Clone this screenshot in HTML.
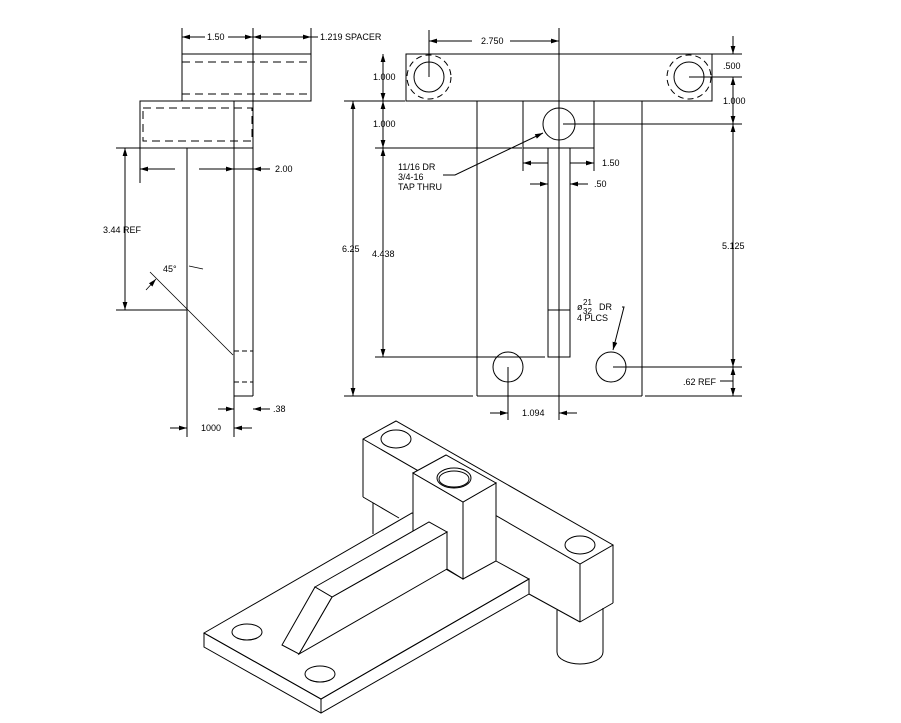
<!DOCTYPE html>
<html><head><meta charset="utf-8"><style>
html,body{margin:0;padding:0;background:#fff;}
svg{display:block;}
text{font-family:"Liberation Sans",sans-serif;font-size:9px;fill:#000;}
</style></head><body>
<svg width="901" height="723" viewBox="0 0 901 723" xmlns="http://www.w3.org/2000/svg">
<defs>
<marker id="a" viewBox="0 0 10 6" refX="10" refY="3" markerWidth="8" markerHeight="5" orient="auto-start-reverse" markerUnits="userSpaceOnUse"><path d="M0,0 L10,3 L0,6 z" fill="#000"/></marker>
</defs>
<rect width="901" height="723" fill="#fff"/>
<g stroke="#000" stroke-width="1" fill="none">
<!-- LEFT VIEW -->
<rect x="182" y="54" width="129" height="47"/>
<line x1="182" y1="62" x2="311" y2="62" stroke-dasharray="8,5"/>
<line x1="182" y1="94" x2="311" y2="94" stroke-dasharray="8,5"/>
<line x1="253" y1="28" x2="253" y2="396"/>
<line x1="182" y1="28" x2="182" y2="54"/>
<line x1="311" y1="28" x2="311" y2="54"/>
<line x1="182" y1="37" x2="205" y2="37" marker-start="url(#a)"/>
<line x1="228" y1="37" x2="253" y2="37" marker-end="url(#a)"/>
<line x1="253" y1="37" x2="311" y2="37" marker-start="url(#a)" marker-end="url(#a)"/>
<line x1="311" y1="37" x2="318" y2="37"/>
<rect x="140" y="101" width="113" height="47"/>
<rect x="143" y="108" width="109" height="33" stroke-dasharray="8,5"/>
<line x1="234" y1="101" x2="234" y2="396"/>
<line x1="234" y1="396" x2="253" y2="396"/>
<line x1="234" y1="396" x2="234" y2="437"/>
<line x1="187" y1="148" x2="187" y2="437"/>
<line x1="234" y1="351" x2="253" y2="351" stroke-dasharray="5,3"/>
<line x1="234" y1="382" x2="253" y2="382" stroke-dasharray="5,3"/>
<line x1="140" y1="148" x2="140" y2="183"/>
<line x1="140" y1="169" x2="175" y2="169" marker-start="url(#a)"/>
<line x1="199" y1="169" x2="234" y2="169" marker-end="url(#a)"/>
<line x1="253" y1="169" x2="270" y2="169" marker-start="url(#a)"/>
<line x1="234" y1="169" x2="253" y2="169"/>
<line x1="116" y1="148" x2="140" y2="148"/>
<line x1="116" y1="310" x2="187" y2="310"/>
<line x1="125" y1="148" x2="125" y2="310" marker-start="url(#a)" marker-end="url(#a)"/>
<line x1="150" y1="272" x2="233" y2="355" stroke-width="0.8"/>
<path d="M146,290 L156,279" marker-end="url(#a)" stroke-width="0.8"/>
<path d="M189,266 L203,269" stroke-width="0.8"/>
<line x1="218" y1="409" x2="234" y2="409" marker-end="url(#a)"/>
<line x1="270" y1="409" x2="253" y2="409" marker-end="url(#a)"/>
<line x1="170" y1="428" x2="187" y2="428" marker-end="url(#a)"/>
<line x1="252" y1="428" x2="234" y2="428" marker-end="url(#a)"/>
<!-- RIGHT VIEW -->
<rect x="406" y="54" width="306" height="47"/>
<circle cx="429" cy="77" r="15"/>
<circle cx="429" cy="77" r="22" stroke-dasharray="6,4"/>
<circle cx="689" cy="77" r="15"/>
<circle cx="689" cy="77" r="22" stroke-dasharray="6,4"/>
<line x1="477" y1="101" x2="477" y2="396"/>
<line x1="642" y1="101" x2="642" y2="396"/>
<line x1="477" y1="396" x2="642" y2="396"/>
<rect x="523" y="101" width="71" height="47"/>
<circle cx="559" cy="124" r="16"/>
<rect x="548" y="148" width="22" height="209"/>
<line x1="548" y1="310" x2="570" y2="310"/>
<line x1="559" y1="28" x2="559" y2="420"/>
<circle cx="508" cy="367" r="15"/>
<circle cx="611" cy="367" r="15"/>
<line x1="429" y1="30" x2="429" y2="77"/>
<line x1="429" y1="41" x2="472" y2="41" marker-start="url(#a)"/>
<line x1="510" y1="41" x2="559" y2="41" marker-end="url(#a)"/>
<line x1="344" y1="101" x2="405" y2="101"/>
<line x1="375" y1="148" x2="522" y2="148"/>
<line x1="375" y1="357" x2="545" y2="357"/>
<line x1="344" y1="396" x2="473" y2="396"/>
<line x1="383" y1="54" x2="383" y2="101" marker-start="url(#a)" marker-end="url(#a)"/>
<line x1="383" y1="101" x2="383" y2="148" marker-start="url(#a)" marker-end="url(#a)"/>
<line x1="383" y1="148" x2="383" y2="357" marker-start="url(#a)" marker-end="url(#a)"/>
<line x1="353" y1="101" x2="353" y2="396" marker-start="url(#a)" marker-end="url(#a)"/>
<line x1="712" y1="54" x2="742" y2="54"/>
<line x1="689" y1="77" x2="742" y2="77"/>
<line x1="563" y1="124" x2="742" y2="124"/>
<line x1="613" y1="367" x2="742" y2="367"/>
<line x1="645" y1="396" x2="742" y2="396"/>
<line x1="733" y1="36" x2="733" y2="54" marker-end="url(#a)"/>
<line x1="733" y1="77" x2="733" y2="124" marker-start="url(#a)" marker-end="url(#a)"/>
<line x1="733" y1="124" x2="733" y2="367" marker-start="url(#a)" marker-end="url(#a)"/>
<line x1="733" y1="367" x2="733" y2="396" marker-start="url(#a)" marker-end="url(#a)"/>
<line x1="720" y1="381" x2="733" y2="381"/>
<line x1="523" y1="148" x2="523" y2="171"/>
<line x1="594" y1="148" x2="594" y2="171"/>
<line x1="548" y1="163" x2="523" y2="163" marker-end="url(#a)"/>
<line x1="570" y1="163" x2="594" y2="163" marker-end="url(#a)"/>
<line x1="530" y1="184" x2="548" y2="184" marker-end="url(#a)"/>
<line x1="588" y1="184" x2="570" y2="184" marker-end="url(#a)"/>
<path d="M443,175 L455,175 L543,133" marker-end="url(#a)"/>
<path d="M622,307 L624,307 L613,350" marker-end="url(#a)"/>
<line x1="508" y1="367" x2="508" y2="420"/>
<line x1="490" y1="413" x2="508" y2="413" marker-end="url(#a)"/>
<line x1="577" y1="413" x2="559" y2="413" marker-end="url(#a)"/>
<!-- ISOMETRIC -->
<!-- cylinders -->
<line x1="373" y1="503" x2="373" y2="534"/>
<line x1="557" y1="610" x2="557" y2="652"/>
<line x1="603" y1="608" x2="603" y2="652"/>
<path d="M557,652 A23,12 0 0 0 603,652"/>
<!-- bar -->
<polyline points="363,497 363,439 396,421 613,545 580,564 363,439"/>
<line x1="580" y1="564" x2="580" y2="622"/>
<line x1="613" y1="545" x2="613" y2="603"/>
<line x1="580" y1="622" x2="613" y2="603"/>
<line x1="529" y1="594" x2="580" y2="622"/>
<line x1="363" y1="497" x2="399" y2="518"/>
<ellipse cx="396" cy="439" rx="15" ry="9"/>
<ellipse cx="580" cy="545" rx="15" ry="9"/>
<!-- base -->
<polygon points="204,633 412,513 496,561 529,579 321,699" fill="#fff"/>
<polyline points="204,633 321,699 529,579 529,594 321,713 204,647 204,633"/>
<line x1="321" y1="699" x2="321" y2="713"/>
<ellipse cx="247" cy="632" rx="15" ry="8"/>
<path d="M237,638 Q247,642 257,638"/>
<ellipse cx="320" cy="674" rx="15" ry="8"/>
<path d="M310,680 Q320,684 330,680"/>
<!-- post -->
<polygon points="413,473 463,502 463,579 413,550" fill="#fff"/>
<polygon points="463,502 496,483 496,561 463,579" fill="#fff"/>
<polygon points="413,473 446,455 496,483 463,502" fill="#fff"/>
<ellipse cx="454" cy="478" rx="17" ry="10"/>
<ellipse cx="454" cy="479" rx="15" ry="8"/>
<!-- rib -->
<polygon points="332,597 447,532 447,569 299,654" fill="#fff"/>
<polygon points="315,587 429,522 447,532 332,597" fill="#fff"/>
<polygon points="315,587 332,597 299,654 282,645" fill="#fff"/>
<line x1="447" y1="569" x2="463" y2="579"/>
</g>
<!-- TEXT -->
<text x="207" y="40">1.50</text>
<text x="320" y="40">1.219  SPACER</text>
<text x="275" y="172">2.00</text>
<text x="103" y="233">3.44  REF</text>
<text x="163" y="272">45°</text>
<text x="273" y="412">.38</text>
<text x="201" y="431">1000</text>
<text x="481" y="44">2.750</text>
<text x="373" y="80">1.000</text>
<text x="373" y="127">1.000</text>
<text x="342" y="252">6.25</text>
<text x="372" y="257">4.438</text>
<text x="723" y="69">.500</text>
<text x="723" y="104">1.000</text>
<text x="722" y="249">5.125</text>
<text x="683" y="385">.62  REF</text>
<text x="602" y="166">1.50</text>
<text x="594" y="187">.50</text>
<text x="398" y="170">11/16  DR</text>
<text x="398" y="180">3/4-16</text>
<text x="398" y="190">TAP  THRU</text>
<text x="577" y="310">ø</text>
<text x="583" y="305" style="font-size:8px">21</text>
<text x="583" y="314" style="font-size:8px">32</text>
<text x="599" y="310">DR</text>
<text x="577" y="321">4  PLCS</text>
<text x="522" y="416">1.094</text>
</svg>
</body></html>
